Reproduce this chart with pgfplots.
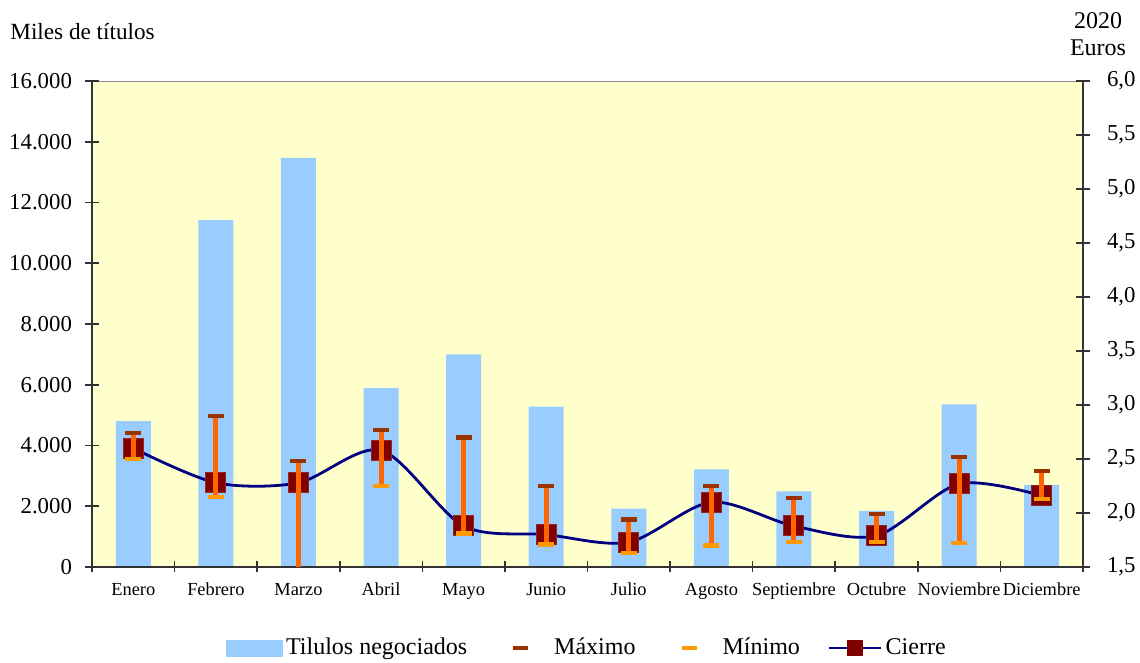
\documentclass[border=0pt]{standalone}
\usepackage{fontspec}
\setmainfont{Liberation Serif}
\usepackage{pgfplots}
\usepackage{pgfplotstable}
\pgfplotsset{compat=1.18}

\definecolor{bgyellow}{HTML}{FFFFCC}
\definecolor{barblue}{HTML}{99CCFF}
\definecolor{rangeorange}{HTML}{FF6600}
\definecolor{maxbrown}{HTML}{993300}
\definecolor{minorange}{HTML}{FF9900}
\definecolor{closered}{HTML}{800000}
\definecolor{closenavy}{HTML}{000080}

% miles de titulos negociados por mes
\pgfplotstableread{
x vol
0 4800
1 11420
2 13470
3 5890
4 7000
5 5280
6 1920
7 3215
8 2490
9 1850
10 5355
11 2700
}\volumen

% euros: maximo, minimo, cierre
\pgfplotstableread{
x max min close
0 2.74 2.50 2.60
1 2.90 2.15 2.28
2 2.48 1.47 2.28
3 2.77 2.25 2.58
4 2.70 1.81 1.88
5 2.25 1.71 1.80
6 1.94 1.63 1.73
7 2.25 1.70 2.10
8 2.14 1.73 1.88
9 1.99 1.73 1.79
10 2.52 1.72 2.27
11 2.39 2.13 2.16
}\precios

\begin{document}
\begin{tikzpicture}
\useasboundingbox (-46pt,-48pt) rectangle (524pt,283.5pt);
\begin{axis}[
  name=main,
  at={(0,0)}, anchor=south west,
  width=495.5pt, height=243pt, scale only axis,
  xmin=-0.5, xmax=11.5, ymin=0, ymax=16000,
  axis background/.style={fill=bgyellow, draw=black!45},
  axis on top,
  axis x line*=bottom, axis y line*=left,
  axis line style={-, draw=black!80, line width=1pt},
  xtick={0,...,11},
  xticklabels={Enero,Febrero,Marzo,Abril,Mayo,Junio,Julio,Agosto,Septiembre,Octubre,Noviembre,Diciembre},
  every major x tick/.style={draw=none},
  minor xtick={-0.5,0.5,...,11.5},
  ytick={0,2000,...,16000},
  tick align=center, major tick length=7pt, minor tick length=5.5pt,
  tick style={black!80, line width=0.8pt},
  scaled y ticks=false,
  /pgf/number format/assume math mode=true,
  yticklabel style={font=\fontsize{11.4}{13}\selectfont, xshift=-3pt, /pgf/number format/.cd, 1000 sep={.}},
  xticklabel style={font=\fontsize{9.2}{11}\selectfont, yshift=-1pt},
]
\addplot[ybar, bar width=17.5pt, bar shift=0pt, fill=barblue, draw=none] table[x=x, y=vol] {\volumen};
\end{axis}
\begin{axis}[
  at={(0,0)}, anchor=south west,
  width=495.5pt, height=243pt, scale only axis,
  xmin=-0.5, xmax=11.5, ymin=1.5, ymax=6,
  axis x line=none, axis y line*=right,
  axis line style={-, draw=black!80, line width=1pt},
  ytick={1.5,2,...,6},
  tick align=center, major tick length=7pt,
  tick style={black!80, line width=0.8pt},
  /pgf/number format/assume math mode=true,
  yticklabel style={font=\fontsize{11.4}{13}\selectfont, xshift=5pt, /pgf/number format/.cd, fixed, fixed zerofill, precision=1, use comma},
  clip marker paths=true,
  legend style={at={(0.5,0)}, anchor=center, yshift=-40.5pt, draw=none, fill=none,
    legend columns=4, font=\fontsize{12}{14}\selectfont,
    nodes={inner xsep=1.5pt},
    /tikz/every even column/.append style={column sep=12.5pt}},
]
\addplot[forget plot, smooth, line width=1.4pt, closenavy, mark=square*, mark size=5pt,
  mark options={fill=closered, draw=closered!85!white, line width=0.5pt}]
  table[x=x, y=close] {\precios};
\addplot[forget plot, only marks, mark=*, mark size=0pt, mark options={draw=none, fill=none},
  error bars/.cd, y dir=minus, y explicit, error mark=none,
  error bar style={line width=2.5pt, rangeorange}]
  table[x=x, y=max, y error expr=\thisrow{max}-\thisrow{min}] {\precios};
\addplot[forget plot, only marks, mark=-, mark size=4pt, mark options={line width=2.2pt, maxbrown}]
  table[x=x, y=max] {\precios};
\addplot[forget plot, only marks, mark=-, mark size=4pt, mark options={line width=2.2pt, minorange}]
  table[x=x, y=min] {\precios};
\addlegendimage{legend image code/.code={\fill[barblue] (0pt,-4pt) rectangle (28pt,4pt);}}
\addlegendentry{Tilulos negociados}
\addlegendimage{legend image code/.code={\path[draw=none] (0pt,0pt) -- (28pt,0pt); \draw[maxbrown, line width=2pt] (9pt,0pt) -- (16.5pt,0pt);}}
\addlegendentry{Máximo}
\addlegendimage{legend image code/.code={\path[draw=none] (0pt,0pt) -- (28pt,0pt); \draw[minorange, line width=2pt] (9pt,0pt) -- (16.5pt,0pt);}}
\addlegendentry{Mínimo}
\addlegendimage{legend image code/.code={\draw[closenavy, line width=1.4pt] (2pt,0pt) -- (28pt,0pt); \fill[closered] (11.25pt,-3.75pt) rectangle (18.75pt,3.75pt);}}
\addlegendentry{Cierre}
\end{axis}
\node[anchor=west, inner sep=0pt, font=\fontsize{11.6}{13}\selectfont, xshift=-41pt, yshift=24.5pt] at (main.north west) {Miles de títulos};
\node[anchor=south, align=center, inner sep=0pt, font=\fontsize{12}{13.5}\selectfont, xshift=7.5pt, yshift=12.5pt] at (main.north east) {2020\\Euros};
\end{tikzpicture}
\end{document}
